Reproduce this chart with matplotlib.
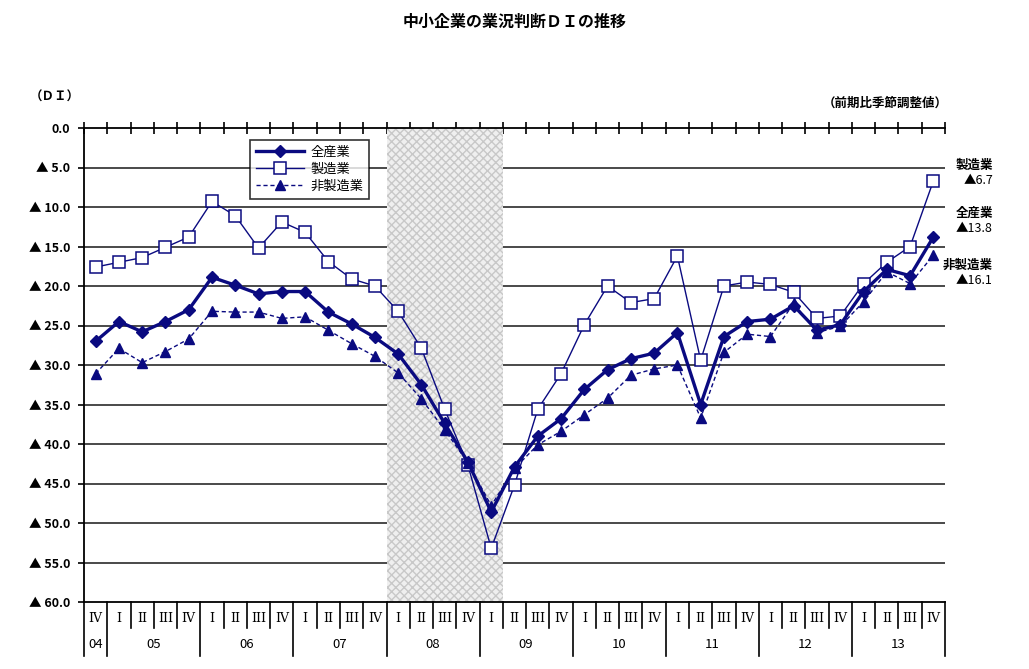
import matplotlib.pyplot as plt
import matplotlib.transforms as mtransforms
import numpy as np

plt.rcParams['font.family'] = ['Noto Sans CJK JP', 'DejaVu Sans']

# quarters: 04 IV, then 05 I .. 13 IV
quarters = ['IV'] + ['I', 'II', 'III', 'IV'] * 9
years = ['04', '05', '06', '07', '08', '09', '10', '11', '12', '13']

# DI values (negative = ▲)
all_ind = [-27.0, -24.5, -25.8, -24.5, -23.0, -18.9, -19.9, -21.0, -20.7, -20.7,
           -23.3, -24.8, -26.5, -28.6, -32.5, -37.4, -42.3, -48.6, -42.9, -39.0,
           -36.8, -33.1, -30.6, -29.2, -28.5, -25.9, -35.0, -26.4, -24.5, -24.2,
           -22.5, -25.6, -24.9, -20.7, -17.9, -18.7, -13.8]
manu = [-17.6, -17.0, -16.4, -15.1, -13.8, -9.3, -11.1, -15.2, -11.9, -13.2,
        -16.9, -19.1, -20.0, -23.2, -27.9, -35.6, -42.7, -53.2, -45.2, -35.6,
        -31.1, -24.9, -20.0, -22.1, -21.6, -16.2, -29.4, -20.0, -19.5, -19.8,
        -20.8, -24.1, -23.8, -19.7, -17.0, -15.0, -6.7]
nonmanu = [-31.1, -27.9, -29.7, -28.3, -26.7, -23.2, -23.3, -23.3, -24.1, -23.9,
           -25.6, -27.3, -28.9, -31.0, -34.3, -38.2, -42.4, -47.8, -43.1, -40.1,
           -38.4, -36.3, -34.2, -31.3, -30.5, -30.0, -36.7, -28.4, -26.1, -26.4,
           -22.2, -25.9, -25.1, -22.0, -18.2, -19.7, -16.1]

# recession period (08 I - 09 I)
shade_start, shade_end = 13, 17

navy = '#0a0a80'
x = np.arange(len(quarters))

fig = plt.figure(figsize=(10.29, 6.69), dpi=100)
ax = fig.add_axes([84 / 1029, 1 - 602 / 669, 861 / 1029, 474 / 669])

ax.set_xlim(-0.5, len(quarters) - 0.5)
ax.set_ylim(-60, 0)

# grid lines
for v in range(-55, 0, 5):
    ax.axhline(v, color='#3a3a3a', lw=1.3, zorder=1)

ax.axvspan(shade_start - 0.5, shade_end + 0.5, facecolor='#efefef', edgecolor='#c8c8c8',
           hatch='xxxx', lw=0, zorder=2)

ax.plot(x, all_ind, color=navy, lw=2.4, marker='D', ms=6, label='全産業', zorder=5)
ax.plot(x, manu, color=navy, lw=1.0, marker='s', ms=8, mfc='white', mec=navy,
        mew=1.1, label='製造業', zorder=4)
ax.plot(x, nonmanu, color=navy, lw=1.0, ls=(0, (3, 2)), marker='^', ms=7,
        label='非製造業', zorder=4)

# axes styling
for s in ['right', 'bottom']:
    ax.spines[s].set_visible(False)
ax.spines['left'].set_linewidth(1.3)
ax.spines['top'].set_linewidth(1.3)
ax.axhline(-60, color='black', lw=1.3, zorder=6, clip_on=False)

ax.set_yticks(range(-60, 1, 5))
ax.set_yticklabels(['0.0' if v == 0 else '▲ %.1f' % (-v) for v in range(-60, 1, 5)])
ax.tick_params(axis='y', length=4, width=1.2, labelsize=9, pad=6)
for t in ax.get_yticklabels():
    t.set_fontweight('bold')

ax.xaxis.tick_top()
ax.set_xticks(np.arange(-0.5, len(quarters), 1))
ax.set_xticklabels([])
ax.tick_params(axis='x', direction='inout', length=8, width=1.2)

# bottom category axis
trans = mtransforms.blended_transform_factory(ax.transData, ax.transAxes)
for i, q in enumerate(quarters):
    ax.text(i, -0.035, q, transform=trans, ha='center', va='center',
            fontsize=9, family='DejaVu Serif')
year_bounds = [-0.5, 0.5] + [0.5 + 4 * k for k in range(1, 10)]
for i in range(len(quarters) + 1):
    xb = i - 0.5
    y1 = -0.113 if xb in year_bounds else -0.055
    ax.plot([xb, xb], [0, y1], transform=trans, color='black', lw=1.2, clip_on=False)
ax.text(0, -0.09, years[0], transform=trans, ha='center', va='center', fontsize=9.5)
for k, yr in enumerate(years[1:]):
    ax.text(1 + 4 * k + 1.5, -0.09, yr, transform=trans, ha='center', va='center',
            fontsize=9.5)

leg = ax.legend(loc='upper left', bbox_to_anchor=(0.193, 0.975), fontsize=9.5,
                frameon=True, fancybox=False, edgecolor='black', borderpad=0.45,
                borderaxespad=0, labelspacing=0.3, handlelength=3.6,
                handletextpad=0.5)
leg.get_frame().set_linewidth(1.2)
leg.set_zorder(7)

fig.text(0.5, 1 - 22 / 669, '中小企業の業況判断ＤＩの推移', ha='center', va='center',
         fontsize=11.5, fontweight='bold')
fig.text(30 / 1029, 1 - 97 / 669, '（ＤＩ）', ha='left', va='center', fontsize=9,
         fontweight='bold')
fig.text(948 / 1029, 1 - 103 / 669, '（前期比季節調整値）', ha='right', va='center',
         fontsize=9, fontweight='bold')

right_labels = [('製造業', manu[-1], 165), ('全産業', all_ind[-1], 213),
                ('非製造業', nonmanu[-1], 265)]
for name, val, ypx in right_labels:
    fig.text(993 / 1029, 1 - ypx / 669, name, ha='right', va='center', fontsize=9,
             fontweight='bold')
    fig.text(993 / 1029, 1 - (ypx + 16) / 669, '▲%.1f' % (-val), ha='right',
             va='center', fontsize=9)

fig.savefig('out.png', dpi=100)
